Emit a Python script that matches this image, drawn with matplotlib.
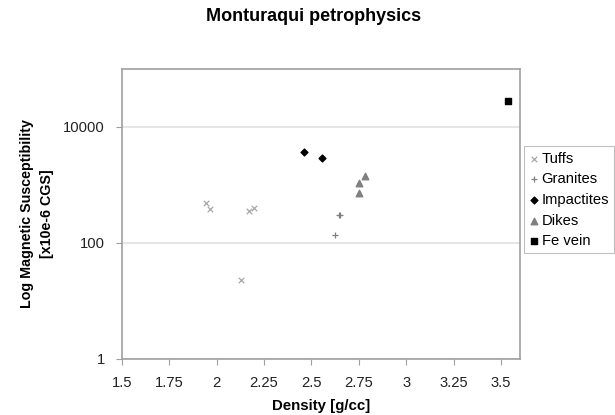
import matplotlib
matplotlib.use("Agg")
import matplotlib.pyplot as plt

plt.rcParams['font.family'] = ['Liberation Sans', 'DejaVu Sans']

tuffs_x = [1.945, 1.963, 2.172, 2.197, 2.128]
tuffs_y = [495, 391, 361, 401, 22.7]
granites_x = [2.647, 2.649, 2.626]
granites_y = [308, 300, 139]
impactites_x = [2.462, 2.557]
impactites_y = [3660, 2920]
dikes_x = [2.784, 2.751, 2.751]
dikes_y = [1430, 1070, 738]
fevein_x = [3.535]
fevein_y = [28400]

xticks = [1.5, 1.75, 2, 2.25, 2.5, 2.75, 3, 3.25, 3.5]
xtick_labels = ['1.5', '1.75', '2', '2.25', '2.5', '2.75', '3', '3.25', '3.5']
yticks = [1, 100, 10000]
ytick_labels = ['1', '100', '10000']

fig = plt.figure(figsize=(6.15, 4.15), dpi=100)
ax = fig.add_axes([0.198, 0.135, 0.6475, 0.699])

ax.scatter(tuffs_x, tuffs_y, marker='x', s=16, color='#a8a8a8', linewidths=0.9, label='Tuffs', zorder=3)
ax.scatter(granites_x, granites_y, marker='+', s=20, color='#808080', linewidths=0.9, label='Granites', zorder=3)
ax.scatter(impactites_x, impactites_y, marker='D', s=12, color='black', label='Impactites', zorder=3)
ax.scatter(dikes_x, dikes_y, marker='^', s=22, color='#808080', label='Dikes', zorder=3)
ax.scatter(fevein_x, fevein_y, marker='s', s=22, color='black', label='Fe vein', zorder=3)

ax.set_yscale('log')
ax.set_xlim(1.5, 3.6)
ax.set_ylim(1, 1e5)
ax.set_xticks(xticks)
ax.set_xticklabels(xtick_labels)
ax.set_yticks(yticks)
ax.set_yticklabels(ytick_labels)
ax.yaxis.set_minor_locator(matplotlib.ticker.NullLocator())
ax.grid(axis='y', color='#e0e0e0', linewidth=1.2, zorder=0)
ax.set_axisbelow(True)
for s in ax.spines.values():
    s.set_color('#a0a0a0')
    s.set_linewidth(1.2)
ax.tick_params(axis='both', direction='out', length=4, color='#a0a0a0', labelsize=10.6, labelcolor='#222222')
ax.tick_params(axis='x', pad=8)
ax.tick_params(axis='y', pad=8)

ax.set_xlabel('Density [g/cc]', fontsize=10.8, fontweight='bold', labelpad=7)
ax.set_ylabel('Log Magnetic Susceptibility\n[x10e-6 CGS]', fontsize=10.3, fontweight='bold',
              labelpad=7, linespacing=1.5)
fig.text(0.51, 0.96, 'Monturaqui petrophysics', ha='center', va='center', fontsize=13, fontweight='bold')

leg = fig.legend(loc='upper left', bbox_to_anchor=(0.852, 0.647), frameon=True, fancybox=False,
                 fontsize=10.6, handletextpad=0.15, handlelength=0.7, borderpad=0.35, labelspacing=0.45,
                 borderaxespad=0)
leg.get_frame().set_edgecolor('#b0b0b0')
leg.get_frame().set_linewidth(0.8)

fig.savefig('out.png', dpi=100)
